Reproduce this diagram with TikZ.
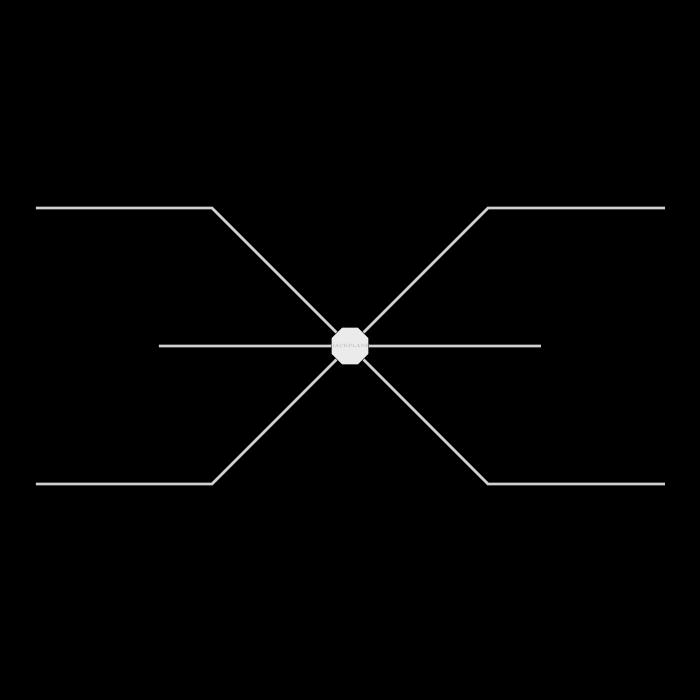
\documentclass[tikz,border=0pt]{standalone}
\usetikzlibrary{shapes.geometric}
\tikzset{
   wire/.style = {draw=black!18, line width=0.8pt},
   hubnode/.style = {regular polygon, regular polygon sides=8, fill=black!8, draw=none,
      minimum size=0.4cm, inner sep=0pt, text=black!30, font=\fontsize{1.3pt}{1.5pt}\selectfont}
}
\begin{document}
\begin{tikzpicture}

		% Background
		\fill[black] (0,0) rectangle (7,7);
		\useasboundingbox (0,0) rectangle (7,7);

		% Hub
		\node[hubnode] (hub) at (3.5,3.54) {\makebox[0pt]{BACKPLANE}};

		% Ends
		\coordinate (tlend) at (0.36,4.92);
		\coordinate (tlbend) at (2.12,4.92);
		\coordinate (trbend) at (4.88,4.92);
		\coordinate (trend) at (6.65,4.92);
		\coordinate (blend) at (0.36,2.16);
		\coordinate (blbend) at (2.12,2.16);
		\coordinate (brbend) at (4.88,2.16);
		\coordinate (brend) at (6.65,2.16);
		\coordinate (midl) at (1.59,3.54);
		\coordinate (midr) at (5.41,3.54);

		% Lines
		\draw[wire] (hub) -- (tlbend) -- (tlend);
		\draw[wire] (hub) -- (trbend) -- (trend);
		\draw[wire] (hub) -- (blbend) -- (blend);
		\draw[wire] (hub) -- (brbend) -- (brend);
		\draw[wire] (midl) -- (hub);
		\draw[wire] (hub) -- (midr);
	\end{tikzpicture}
\end{document}
